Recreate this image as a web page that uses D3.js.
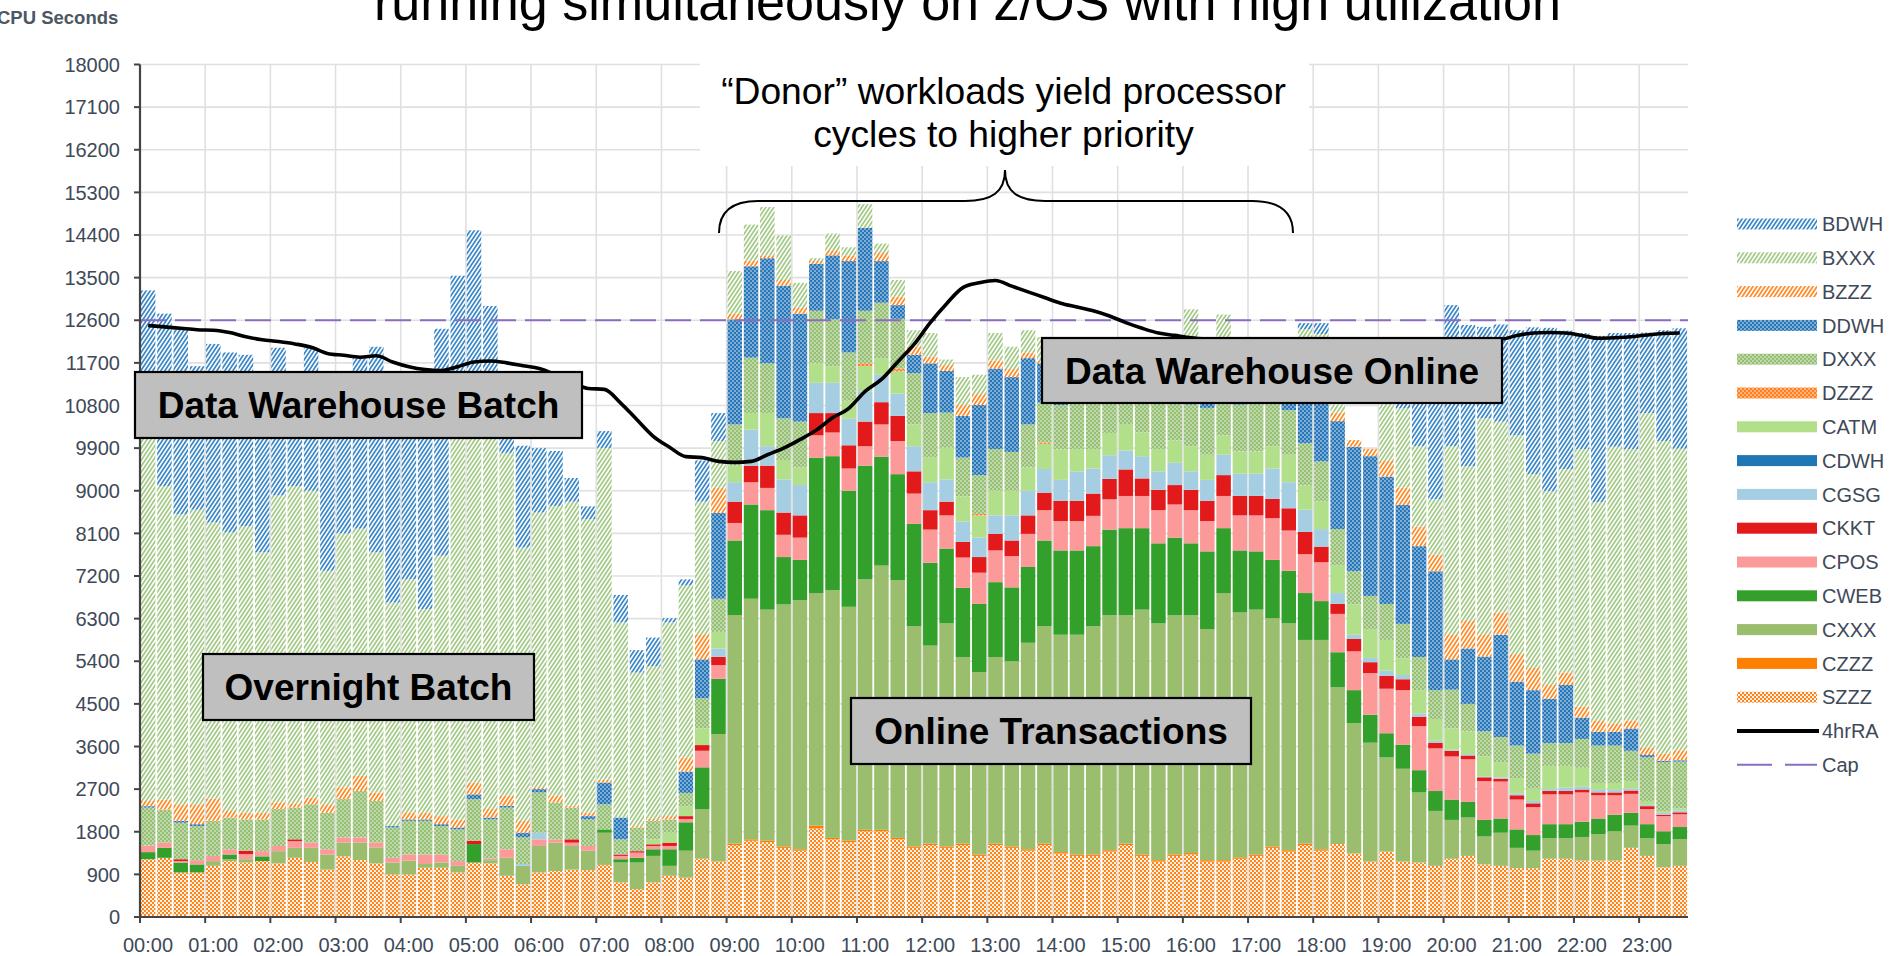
<!DOCTYPE html>
<html><head><meta charset="utf-8">
<script src="https://cdn.jsdelivr.net/npm/d3@7"></script>
<style>
body{margin:0;background:#fff;}
svg{display:block;}
text{font-family:Arial,"Liberation Sans",sans-serif;}
</style>
</head><body>
<svg id="chart" width="1890" height="956"></svg>
<script>
// ---------------- DATA ----------------
const hourLabels = ["00:00","01:00","02:00","03:00","04:00","05:00","06:00","07:00","08:00","09:00","10:00","11:00",
  "12:00","13:00","14:00","15:00","16:00","17:00","18:00","19:00","20:00","21:00","22:00","23:00"];
const yTicks = [0,900,1800,2700,3600,4500,5400,6300,7200,8100,9000,9900,10800,11700,12600,13500,14400,15300,16200,17100,18000];
// stack order, bottom to top
const seriesNames = ["SZZZ","CZZZ","CXXX","CWEB","CPOS","CKKT","CGSG","CDWH","CATM","DZZZ","DXXX","DDWH","BZZZ","BXXX","BDWH"];

const SZZZ = [1220,1250,940,940,1080,1180,1150,1180,1130,1250,
 1160,1000,1280,1200,1130,900,900,1040,1040,940,
 1150,1130,870,690,940,970,1000,990,1100,730,
 590,730,870,830,1230,1170,1520,1610,1580,1460,
 1400,1870,1640,1580,1810,1810,1640,1460,1520,1460,
 1520,1290,1520,1460,1400,1520,1340,1290,1290,1380,
 1520,1290,1170,1290,1320,1170,1170,1230,1290,1460,
 1380,1520,1400,1540,1340,1170,1380,1170,1150,1080,
 1230,1290,1110,1080,1030,1030,1230,1230,1190,1190,
 1190,1460,1290,1050,1080];
const CZZZ = [0,0,0,0,0,0,0,0,0,0, 0,0,0,0,0,0,0,0,0,0, 0,0,0,0,0,0,0,0,0,0,
 0,0,0,0,0,0,30,30,30,30, 30,60,30,30,30,30,30,30,30,30, 30,30,30,30,30,30,30,30,30,30,
 30,30,30,30,30,30,30,30,30,30, 30,30,30,0,0,0,0,0,0,0, 0,0,0,0,0,0,0,0,0,0, 0,0,0,0,0];
const CXXX = [0,0,0,0,100,40,70,0,260,210,
 300,320,290,370,340,250,290,80,110,140,
 0,70,380,390,560,600,500,410,680,420,
 560,560,210,570,1050,2690,4820,5080,4880,5110,
 5260,4910,5230,4940,5290,5580,5440,4650,4180,4710,
 3940,3850,3940,3910,4360,4590,4590,4640,4820,4960,
 4820,5170,5000,5050,5020,4880,5640,5170,5170,4820,
 4790,4300,4420,3310,2750,2510,1990,1960,1480,1160,
 820,810,590,700,430,370,430,430,500,560,
 620,470,370,490,560];
const CWEB = [150,210,210,170,0,100,0,100,0,0,
 0,0,0,0,0,0,0,0,0,0,
 390,0,0,0,0,0,0,0,70,70,
 100,140,350,600,880,1170,1580,1990,2100,1000,
 850,2860,2830,2450,2400,2300,2240,2160,1750,1580,
 1460,1440,1580,1560,1600,1810,1780,1780,1690,1810,
 1840,1720,1690,1640,1520,1640,1370,1310,1230,1230,
 1110,990,820,740,700,590,510,510,470,420,
 430,330,350,300,390,330,300,300,320,330,
 350,270,300,270,260];
const CPOS = [140,110,30,90,110,110,110,110,110,140,
 110,110,110,110,100,100,130,200,170,100,
 0,30,180,0,140,70,70,100,0,70,
 110,70,70,70,350,290,370,470,470,470,
 470,470,500,470,410,680,700,640,700,700,
 640,660,670,660,700,640,620,620,640,640,
 680,680,700,700,700,640,680,740,760,880,
 850,820,820,810,820,880,940,1150,930,900,
 910,900,820,780,630,590,630,630,620,490,
 410,400,320,320,270];
const CKKT = [0,0,40,0,0,0,70,0,0,40,
 0,0,0,0,0,0,0,0,0,0,
 70,0,0,0,0,0,70,0,0,30,
 30,35,70,60,120,175,450,350,470,470,
 470,470,410,490,520,470,530,470,410,290,
 330,330,350,330,390,370,430,430,470,430,
 560,370,430,410,430,430,440,410,410,410,
 470,470,330,210,260,230,270,230,200,120,
 120,80,80,60,90,80,70,70,60,60,
 60,70,60,30,40];
const CGSG = [0,0,0,0,0,0,0,0,0,0,
 0,0,0,0,0,0,0,0,0,0,
 0,0,0,40,140,0,0,0,0,0,
 0,0,0,0,0,175,410,760,410,700,
 640,640,640,560,640,580,470,530,590,470,
 430,410,390,530,520,500,440,620,530,500,
 400,470,390,470,390,440,430,470,470,640,
 550,470,370,230,90,90,110,90,70,40,
 20,30,20,30,40,50,40,70,60,60,
 60,40,30,40,40];
const CDWH = [0,0,0,0,0,0,0,0,0,0, 0,0,0,0,0,0,0,0,0,0, 0,0,0,0,0,0,0,0,0,0,
 0,0,0,0,0,0,0,0,0,0, 0,0,0,0,0,0,0,0,0,0, 0,0,0,0,0,0,0,0,0,0,
 0,0,0,0,0,0,0,0,0,0, 0,0,0,0,0,0,0,0,0,0, 0,0,0,0,0,0,0,0,0,0, 0,0,0,0,0];
const CATM = [0,0,0,0,0,0,0,0,0,0,
 0,0,0,0,0,0,0,0,0,0,
 0,0,0,0,0,0,0,0,0,0,
 0,105,210,200,350,350,350,350,700,410,
 370,410,350,380,530,350,470,460,530,670,
 530,470,520,520,490,530,640,470,410,470,
 560,500,470,470,530,530,410,470,470,470,
 580,510,590,590,640,610,650,350,490,460,
 450,480,420,320,310,260,490,460,400,140,
 140,160,80,40,40];
const DZZZ = [0,0,0,0,0,0,0,0,0,0, 0,0,0,0,0,0,0,0,0,0, 0,0,0,0,0,0,0,0,0,0,
 0,0,0,0,0,0,0,0,0,0, 0,0,0,0,60,0,60,0,0,0, 0,30,0,0,0,30,0,0,0,0,
 0,0,0,0,0,0,0,0,0,0, 0,0,0,0,0,0,0,0,0,0, 0,0,0,0,0,0,0,0,0,0, 0,0,0,0,0];
const DXXX = [800,700,770,720,740,670,660,670,780,670,
 810,770,810,980,880,640,710,710,600,670,
 880,830,880,560,850,780,670,560,530,320,
 500,390,280,290,640,700,870,1170,1050,880,
 970,1110,990,1020,1110,1170,1050,1080,930,740,
 820,820,880,820,910,840,940,990,990,640,
 530,640,990,820,880,990,700,990,1050,940,
 940,890,840,760,700,700,760,730,700,610,
 820,580,530,530,700,740,480,480,610,790,
 790,640,920,1030,990];
const DDWH = [30,0,40,40,0,0,0,0,0,0,
 0,0,0,0,0,30,30,30,40,40,
 100,40,40,100,70,0,0,70,460,460,
 0,0,0,450,820,1810,2220,1930,2220,2800,
 2280,990,1350,1930,1750,880,290,390,1050,880,
 880,1480,1700,1580,1400,830,140,60,60,60,
 60,60,60,60,60,200,60,140,60,60,
 250,1610,2190,2280,2630,2950,2690,2510,2340,2510,
 640,1170,1580,2160,1350,1340,940,1230,450,290,
 290,470,50,30,30];
const BZZZ = [110,210,350,420,470,140,140,140,140,90,
 140,180,250,320,180,0,150,140,170,170,
 250,180,210,250,40,140,40,70,60,0,
 30,40,70,300,530,530,120,120,60,120,
 120,60,110,120,0,170,180,170,140,120,
 230,230,170,170,120,50,0,0,0,0,
 0,0,0,0,0,0,0,0,0,0,
 0,100,100,180,140,150,330,370,410,350,
 530,580,470,470,580,470,290,260,230,230,
 180,170,150,150,210];
const BXXX = [8050,6620,6120,6220,5830,5880,6050,5500,6480,6700,
 6480,4930,5360,5220,5070,4720,4920,4300,5500,8340,
 7760,8120,7240,5770,5800,6120,6420,6200,7000,4120,
 3240,3230,4090,3630,2800,990,900,760,1020,940,
 530,60,350,170,500,200,350,350,500,120,
 590,410,580,470,470,500,1250,1170,1170,1230,
 1200,1270,1270,1310,1950,1250,1790,1200,1220,1210,
 1200,700,400,170,0,0,1280,1670,1700,1170,
 3970,3270,4560,4030,4620,4090,4090,4300,5440,4620,
 5840,5730,7070,6600,6370];
const BDWH = [2730,3640,3900,3030,3770,3800,3620,3600,3120,2200,
 3020,4090,3300,3600,4340,4760,4170,4800,4790,3140,
 3900,2500,300,2150,1360,1160,500,270,360,580,
 475,600,90,130,870,590,0,0,0,0,
 0,0,0,0,0,0,0,0,0,0,
 0,0,0,0,0,0,0,0,0,0,
 0,0,0,0,0,0,0,0,0,0,
 0,130,230,0,0,0,700,1150,2060,3270,
 2980,2980,1930,2050,2220,3100,3450,2920,2450,3510,
 2400,2450,1700,2340,2540];
// 4-hour rolling average line
const RA4 = [12490,12460,12430,12400,12390,12340,12250,12190,12150,12100,
 12030,11900,11860,11820,11850,11720,11620,11560,11540,11620,
 11720,11740,11700,11640,11580,11450,11300,11160,11140,10850,
 10500,10150,9920,9720,9700,9620,9600,9620,9760,9900,
 10080,10280,10540,10740,11100,11350,11720,12090,12550,12950,
 13290,13390,13440,13320,13200,13080,12960,12880,12800,12690,
 12550,12430,12330,12280,12230,12200,12180,12170,12160,12160,
 12160,12170,12180,12180,12190,12190,12200,12200,12200,12200,
 12210,12210,12200,12200,12280,12330,12340,12330,12280,12220,
 12230,12250,12290,12320,12330];
const CAP = 12600;

const seriesValues = {SZZZ,CZZZ,CXXX,CWEB,CPOS,CKKT,CGSG,CDWH,CATM,DZZZ,DXXX,DDWH,BZZZ,BXXX,BDWH};

// ---------------- STYLE ----------------
const styles = {
  BDWH:{type:"hatch",color:"#3a87c7"},
  BXXX:{type:"hatch",color:"#a2ca85"},
  BZZZ:{type:"hatch",color:"#ff8a24"},
  DDWH:{type:"dots",color:"#2777b8"},
  DXXX:{type:"dots",color:"#95bf72"},
  DZZZ:{type:"dots",color:"#ff8020"},
  CATM:{type:"solid",color:"#b2df8a"},
  CDWH:{type:"solid",color:"#1f78b4"},
  CGSG:{type:"solid",color:"#a6cee3"},
  CKKT:{type:"solid",color:"#e31a1c"},
  CPOS:{type:"solid",color:"#fb9a99"},
  CWEB:{type:"solid",color:"#33a02c"},
  CXXX:{type:"solid",color:"#9abd6e"},
  CZZZ:{type:"solid",color:"#ff7f00"},
  SZZZ:{type:"lattice",color:"#ff8418"}
};

const svg = d3.select("#chart");
const pLeft = 140, pRight = 1688, pTop = 64.5, pBottom = 917;
const nBars = SZZZ.length;
const x = d3.scaleLinear().domain([0, 95]).range([pLeft, pRight]);
const y = d3.scaleLinear().domain([0, 18000]).range([pBottom, pTop]);

const defs = svg.append("defs");
function fillFor(name){
  const s = styles[name];
  if (s.type === "solid") return s.color;
  const id = "p_" + name;
  if (defs.select("#" + id).empty()) {
    if (s.type === "hatch") {
      const p = defs.append("pattern").attr("id", id).attr("patternUnits","userSpaceOnUse").attr("width",4).attr("height",6);
      p.append("rect").attr("width",4).attr("height",6).attr("fill","#fff");
      p.append("path").attr("d","M0,6 L4,0 M-1,1.5 L1,-1.5 M3,7.5 L5,4.5").attr("stroke",s.color).attr("stroke-width",1.75);
    } else if (s.type === "dots") {
      const p = defs.append("pattern").attr("id", id).attr("patternUnits","userSpaceOnUse").attr("width",4).attr("height",4);
      p.append("rect").attr("width",4).attr("height",4).attr("fill",s.color);
      p.append("circle").attr("cx",1).attr("cy",1).attr("r",0.75).attr("fill","#fff");
      p.append("circle").attr("cx",3).attr("cy",3).attr("r",0.75).attr("fill","#fff");
    } else {
      const p = defs.append("pattern").attr("id", id).attr("patternUnits","userSpaceOnUse").attr("width",4).attr("height",4);
      p.append("rect").attr("width",4).attr("height",4).attr("fill",s.color);
      p.append("circle").attr("cx",1).attr("cy",1).attr("r",1.1).attr("fill","#fff");
      p.append("circle").attr("cx",3).attr("cy",3).attr("r",1.1).attr("fill","#fff");
    }
  }
  return "url(#" + id + ")";
}

// ---------------- GRID ----------------
const grid = svg.append("g");
grid.selectAll("line.h").data(yTicks.filter(v => v > 0)).join("line")
  .attr("x1", pLeft).attr("x2", pRight).attr("y1", d => y(d)).attr("y2", d => y(d))
  .attr("stroke", "#e0e0e0").attr("stroke-width", 1.6);
grid.selectAll("line.v").data(hourLabels.map((h, i) => i).filter(i => i > 0)).join("line")
  .attr("x1", d => x(d * 4)).attr("x2", d => x(d * 4)).attr("y1", pTop).attr("y2", pBottom)
  .attr("stroke", "#e0e0e0").attr("stroke-width", 1.6);

// ---------------- BARS ----------------
const rows = d3.range(nBars).map(i => {
  const r = {i};
  seriesNames.forEach(n => r[n] = seriesValues[n][i]);
  return r;
});
const stacked = d3.stack().keys(seriesNames)(rows);
const bw = x(1) - x(0);
svg.append("g").selectAll("g").data(stacked).join("g")
  .attr("fill", d => fillFor(d.key))
  .selectAll("rect").data(d => d.filter(p => p[1] - p[0] > 0)).join("rect")
  .attr("x", d => x(d.data.i) + 0.9)
  .attr("width", bw - 1.8)
  .attr("y", d => y(d[1]))
  .attr("height", d => y(d[0]) - y(d[1]));

// ---------------- LINES ----------------
svg.append("line").attr("x1", pLeft).attr("x2", pRight).attr("y1", y(CAP)).attr("y2", y(CAP))
  .attr("stroke", "#8a6cc0").attr("stroke-width", 1.8).attr("stroke-dasharray", "26,9");
svg.append("path").datum(RA4)
  .attr("d", d3.line().x((d, i) => x(i + 0.5)).y(d => y(d)).curve(d3.curveMonotoneX))
  .attr("fill", "none").attr("stroke", "#000").attr("stroke-width", 3.6).attr("stroke-linejoin","round");

// ---------------- AXES ----------------
const axisColor = "#444";
const labelColor = "#3e4958";
svg.append("line").attr("x1", pLeft).attr("x2", pLeft).attr("y1", pTop).attr("y2", pBottom + 1)
  .attr("stroke", axisColor).attr("stroke-width", 2.2);
svg.append("line").attr("x1", pLeft - 1).attr("x2", pRight).attr("y1", pBottom).attr("y2", pBottom)
  .attr("stroke", axisColor).attr("stroke-width", 2.2);
svg.append("g").selectAll("line").data(yTicks).join("line")
  .attr("x1", pLeft - 6).attr("x2", pLeft).attr("y1", d => y(d)).attr("y2", d => y(d))
  .attr("stroke", axisColor).attr("stroke-width", 2);
svg.append("g").selectAll("text").data(yTicks).join("text")
  .attr("x", 120).attr("y", d => y(d)).attr("dy", "0.36em").attr("text-anchor", "end")
  .attr("font-size", 20).attr("fill", labelColor).text(d => d);
svg.append("g").selectAll("line").data(hourLabels).join("line")
  .attr("x1", (d, i) => x(i * 4)).attr("x2", (d, i) => x(i * 4)).attr("y1", pBottom).attr("y2", pBottom + 6)
  .attr("stroke", axisColor).attr("stroke-width", 2);
svg.append("g").selectAll("text").data(hourLabels).join("text")
  .attr("x", (d, i) => x(i * 4) + 8).attr("y", 952).attr("text-anchor", "middle")
  .attr("font-size", 20).attr("fill", labelColor).text(d => d);

svg.append("text").attr("x", -3).attr("y", 24).attr("font-size", 18.5).attr("font-weight", "bold")
  .attr("fill", "#4c5763").text("CPU Seconds");

// ---------------- LEGEND ----------------
const legendNames = seriesNames.slice().reverse();
const lg = svg.append("g");
const ly = k => 224 + k * 33.8;
legendNames.forEach((n, k) => {
  lg.append("rect").attr("x", 1737).attr("y", ly(k) - 5.5).attr("width", 80).attr("height", 11).attr("fill", fillFor(n));
  lg.append("text").attr("x", 1822).attr("y", ly(k)).attr("dy", "0.36em").attr("font-size", 20).attr("fill", labelColor).text(n);
});
const kRA = legendNames.length, kCap = legendNames.length + 1;
lg.append("line").attr("x1", 1737).attr("x2", 1819).attr("y1", ly(kRA)).attr("y2", ly(kRA)).attr("stroke", "#000").attr("stroke-width", 4);
lg.append("text").attr("x", 1822).attr("y", ly(kRA)).attr("dy", "0.36em").attr("font-size", 20).attr("fill", labelColor).text("4hrRA");
lg.append("line").attr("x1", 1737).attr("x2", 1817).attr("y1", ly(kCap)).attr("y2", ly(kCap)).attr("stroke", "#8a6cc0").attr("stroke-width", 2).attr("stroke-dasharray", "35,13");
lg.append("text").attr("x", 1822).attr("y", ly(kCap)).attr("dy", "0.36em").attr("font-size", 20).attr("fill", labelColor).text("Cap");

// ---------------- ANNOTATIONS ----------------
function fitWidth(sel, w){
  const l = sel.node().getComputedTextLength();
  sel.attr("font-size", parseFloat(sel.attr("font-size")) * w / l);
}
const title = svg.append("text").attr("x", 374).attr("y", 20).attr("font-size", 52).attr("fill", "#000")
  .text("running simultaneously on z/OS with high utilization");
fitWidth(title, 1187);

svg.append("rect").attr("x", 700).attr("y", 56).attr("width", 609).attr("height", 110).attr("fill", "#fff");
const d1 = svg.append("text").attr("x", 1003.5).attr("y", 104).attr("text-anchor","middle").attr("font-size", 37).attr("fill","#000")
  .text("\u201cDonor\u201d workloads yield processor");
fitWidth(d1, 565);
const d2 = svg.append("text").attr("x", 1003.5).attr("y", 147).attr("text-anchor","middle").attr("font-size", d1.attr("font-size")).attr("fill","#000")
  .text("cycles to higher priority");

svg.append("path")
  .attr("d", "M719,233 Q719,201 758,201 L965,201 C992,201 1005,192 1005,170 C1005,192 1018,201 1045,201 L1252,201 Q1293,201 1293,233")
  .attr("fill", "none").attr("stroke", "#000").attr("stroke-width", 2);

const boxes = [
  {label:"Data Warehouse Batch", x:135, y:372, w:447, h:66},
  {label:"Overnight Batch", x:203, y:654, w:331, h:66},
  {label:"Online Transactions", x:851, y:698, w:400, h:66},
  {label:"Data Warehouse Online", x:1042, y:338, w:460, h:65}
];
boxes.forEach(b => {
  svg.append("rect").attr("x", b.x).attr("y", b.y).attr("width", b.w).attr("height", b.h)
    .attr("fill", "#bfbfbf").attr("stroke", "#000").attr("stroke-width", 2.2);
  svg.append("text").attr("x", b.x + b.w / 2).attr("y", b.y + 46).attr("text-anchor", "middle")
    .attr("font-size", 37).attr("font-weight", "bold").attr("fill", "#000").text(b.label);
});
</script>
</body></html>
